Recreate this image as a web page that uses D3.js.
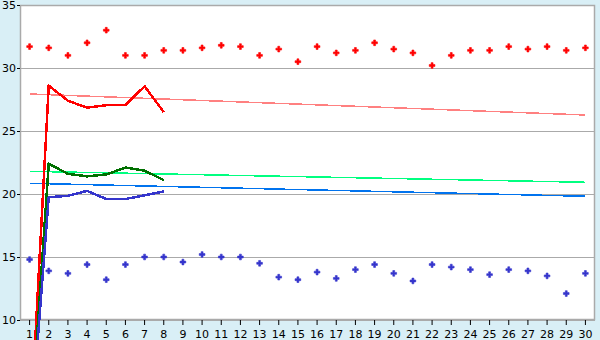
<!DOCTYPE html>
<html>
<head>
<meta charset="utf-8">
<script src="https://cdn.jsdelivr.net/npm/d3@7"></script>
<style>
  body { margin: 0; background: #d9eff6; }
  svg { display: block; }
  .tick text { font-family: "DejaVu Sans", Verdana, sans-serif; font-size: 11px; fill: #000; }
</style>
</head>
<body>
<svg id="chart" width="600" height="340"></svg>
<script>
// day numbers on the x axis
const days = [1,2,3,4,5,6,7,8,9,10,11,12,13,14,15,16,17,18,19,20,21,22,23,24,25,26,27,28,29,30];
const yTicks = [10, 15, 20, 25, 30, 35];

// scattered daily readings
const redPoints  = [31.7,31.6,31.0,32.0,33.0,31.0,31.0,31.4,31.4,31.6,31.8,31.7,31.0,31.5,30.5,31.7,31.2,31.4,32.0,31.5,31.2,30.2,31.0,31.4,31.4,31.7,31.5,31.7,31.4,31.6];
const bluePoints = [14.8,13.9,13.7,14.4,13.2,14.4,15.0,15.0,14.6,15.2,15.0,15.0,14.5,13.4,13.2,13.8,13.3,14.0,14.4,13.7,13.1,14.4,14.2,14.0,13.6,14.0,13.9,13.5,12.1,13.7];

// thick lines, days 1..8
const redLine   = [0, 28.6, 27.4, 26.85, 27.05, 27.05, 28.55, 26.5];
const greenLine = [0, 22.4, 21.6, 21.4, 21.55, 22.1, 21.85, 21.1];
const blueLine  = [0, 19.75, 19.85, 20.25, 19.6, 19.6, 19.9, 20.2];

// trend lines, value at day 1 and day 30
const redTrend   = [27.94, 26.27];
const greenTrend = [21.8, 20.93];
const blueTrend  = [20.85, 19.82];

const margin = {top: 5, right: 5, bottom: 20, left: 20};
const width = 600 - margin.left - margin.right;
const height = 340 - margin.top - margin.bottom;

const svg = d3.select("#chart");
const g = svg.append("g").attr("transform", "translate(" + margin.left + "," + margin.top + ")");

const x = d3.scaleBand().domain(days).range([0, width]);
const y = d3.scaleLinear().domain([10, 35]).range([height, 0]);
const cx = function(d) { return x(d) + x.bandwidth() / 2; };

// plot background
g.append("rect")
  .attr("width", width).attr("height", height)
  .attr("fill", "#fff");

// grid
g.append("g").selectAll("line").data(yTicks).enter().append("line")
  .attr("x1", 0).attr("x2", width)
  .attr("y1", function(d) { return Math.round(y(d)) + 0.5; })
  .attr("y2", function(d) { return Math.round(y(d)) + 0.5; })
  .attr("stroke", "#aaa");

// frame
g.append("rect")
  .attr("x", 0.5).attr("y", 0.5)
  .attr("width", width - 1).attr("height", height - 1)
  .attr("fill", "none").attr("stroke", "#aaa").attr("stroke-width", 1.5);

// axes
const yAxis = g.append("g")
  .call(d3.axisLeft(y).tickValues(yTicks).tickSize(3).tickPadding(1));
yAxis.select(".domain").remove();
yAxis.selectAll("line").attr("stroke", "#000");

const xAxis = g.append("g")
  .attr("transform", "translate(0," + height + ")")
  .call(d3.axisBottom(x).tickSize(5).tickPadding(5));
xAxis.select(".domain").remove();
xAxis.selectAll("line").attr("stroke", "#000");

// trends
function drawTrend(vals, color) {
  g.append("line")
    .attr("x1", cx(days[0])).attr("x2", cx(days[days.length - 1]))
    .attr("y1", y(vals[0])).attr("y2", y(vals[1]))
    .attr("stroke", color).attr("stroke-width", 1.5)
    .attr("shape-rendering", "crispEdges");
}
drawTrend(redTrend, "#ff8080");
drawTrend(greenTrend, "#00ff80");
drawTrend(blueTrend, "#0073ee");

// points
function drawPoints(vals, color) {
  g.append("g").selectAll("path").data(vals).enter().append("path")
    .attr("d", d3.symbol(d3.symbolCross, 18))
    .attr("transform", function(d, i) { return "translate(" + cx(days[i]) + "," + y(d) + ")"; })
    .attr("fill", color)
    .attr("stroke", color)
    .attr("stroke-width", 0.6);
}
drawPoints(redPoints, "#ff0000");
drawPoints(bluePoints, "#3535cc");

// thick lines
const line = d3.line()
  .x(function(d, i) { return cx(days[i]); })
  .y(function(d) { return y(d); });

function drawLine(vals, color) {
  g.append("path")
    .datum(vals)
    .attr("d", line)
    .attr("fill", "none")
    .attr("stroke", color)
    .attr("stroke-width", 2.5)
    .attr("shape-rendering", "crispEdges");
}
drawLine(redLine, "#ff0000");
drawLine(greenLine, "#007000");
drawLine(blueLine, "#3535cc");
</script>
</body>
</html>
